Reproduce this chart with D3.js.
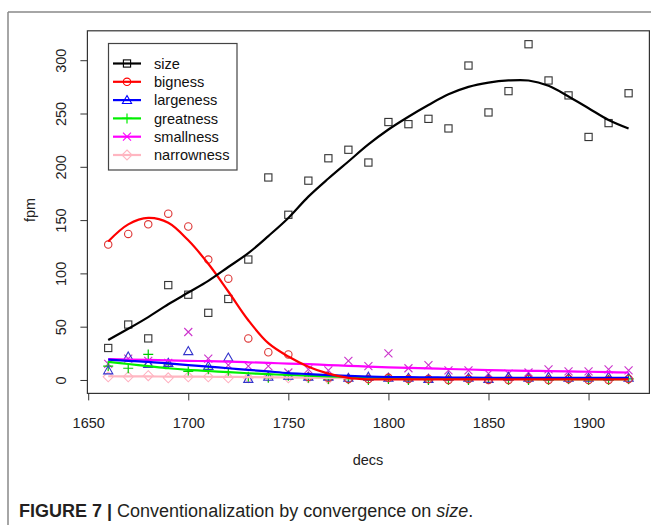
<!DOCTYPE html>
<html>
<head>
<meta charset="utf-8">
<script src="https://cdn.jsdelivr.net/npm/d3@7"></script>
<style>
  body { margin: 0; background: #fff; }
  svg { display: block; font-family: "Liberation Sans", Arial, sans-serif; }
</style>
</head>
<body>
<div id="chart"></div>
<script>
// decades on the x axis
const decs = [1660, 1670, 1680, 1690, 1700, 1710, 1720, 1730, 1740, 1750, 1760, 1770, 1780, 1790,
              1800, 1810, 1820, 1830, 1840, 1850, 1860, 1870, 1880, 1890, 1900, 1910, 1920];

// observed fpm per decade
const size       = [30, 52, 39, 89, 80, 63, 76, 113, 190, 155, 187, 208, 216, 204, 242, 240, 245, 236, 295, 251, 271, 315, 281, 267, 228, 241, 269];
const bigness    = [127, 137, 146, 156, 144, 113, 95, 39, 26, 24, 3, 2, 1, 1, 2, 1, 1, 0, 1, 0, 0, 1, 0, 1, 0, 0, 1];
const largeness  = [9, 22, 15, 16, 27, 13, 21, 1, 3, 4, 3, 3, 2, 3, 2, 2, 1, 3, 2, 1, 3, 2, 3, 2, 2, 3, 2];
const greatness  = [13, 11, 24, 15, 8, 10, 7, 3, 2, 4, 2, 1, 1, 0, 1, 0, 0, 0, 0, 1, 0, 0, 0, 1, 0, 0, 1];
const smallness  = [15, 20, 18, 16, 45, 20, 14, 13, 13, 7, 10, 9, 18, 13, 25, 11, 14, 9, 9, 6, 6, 7, 10, 8, 8, 10, 9];
const narrowness = [3, 3, 4, 2, 3, 3, 2, 2, 3, 2, 2, 1, 1, 1, 2, 1, 1, 1, 1, 1, 1, 1, 1, 1, 1, 1, 1];

// smoothed curves at each decade
const sizeFit   = [37.5, 48, 59, 71, 82, 93, 106, 119, 135, 152, 172, 189, 205, 221, 235, 247, 258, 268, 275, 279, 281, 281, 276, 266, 255, 244, 236];
const bigFit    = [130, 146, 152, 147.5, 131, 109, 83, 56, 34.5, 22, 12.5, 6, 2, 0.6, 0.5, 0.5, 0.5, 0.5, 0.5, 0.5, 0.5, 0.5, 0.5, 0.5, 0.5, 0.5, 0.5];
const largeFit  = [19, 18, 17, 15.5, 14, 12.5, 11, 9.5, 8, 6.5, 5.5, 4.5, 3.8, 3.2, 2.8, 2.6, 2.4, 2.3, 2.2, 2.1, 2, 2, 2, 2, 2, 2, 2];
const greatFit  = [17, 15, 13, 11, 9.5, 8.4, 7.3, 6.3, 5.4, 4.7, 4, 3.4, 2.8, 2.3, 1.9, 1.6, 1.4, 1.2, 1, 1, 0.9, 0.9, 0.8, 0.8, 0.8, 0.8, 0.8];
const smallFit  = [19.5, 19.2, 18.8, 18.4, 18, 17.6, 17.2, 16.6, 16, 15.4, 14.8, 14, 13.3, 12.5, 11.8, 11.3, 10.8, 10.3, 9.8, 9.3, 8.9, 8.6, 8.3, 8, 7.7, 7.3, 7];
const narrowFit = [3.5, 3.4, 3.3, 3.2, 3.1, 3, 2.9, 2.7, 2.5, 2.3, 2.1, 1.9, 1.7, 1.5, 1.4, 1.3, 1.2, 1.1, 1, 1, 1, 1, 1, 1, 1, 1, 1];

const xTicks = [1650, 1700, 1750, 1800, 1850, 1900];
const yTicks = [0, 50, 100, 150, 200, 250, 300];

const series = [
    { name: 'size',       pts: size,       fit: sizeFit,   line: '#000000', mark: '#333333', shape: 'square' },
    { name: 'bigness',    pts: bigness,    fit: bigFit,    line: '#ff0000', mark: '#dd3333', shape: 'circle' },
    { name: 'largeness',  pts: largeness,  fit: largeFit,  line: '#0000ff', mark: '#3333cc', shape: 'triangle' },
    { name: 'greatness',  pts: greatness,  fit: greatFit,  line: '#00ee00', mark: '#00cc00', shape: 'plus' },
    { name: 'smallness',  pts: smallness,  fit: smallFit,  line: '#ff00ff', mark: '#cc33cc', shape: 'cross' },
    { name: 'narrowness', pts: narrowness, fit: narrowFit, line: '#ffb6c1', mark: '#ffb0c0', shape: 'diamond' }
];

const width = 651, height = 525;

const svg = d3.select('#chart')
    .append('svg')
    .attr('width', width)
    .attr('height', height);

// figure frame (top and left rules)
svg.append('line').attr('x1', 8).attr('x2', width).attr('y1', 12).attr('y2', 12)
    .attr('stroke', '#888').attr('stroke-width', 1.5);
svg.append('line').attr('x1', 8).attr('x2', 8).attr('y1', 12).attr('y2', height)
    .attr('stroke', '#888').attr('stroke-width', 1.5);

const x = d3.scaleLinear().domain([1649.6, 1930.4]).range([87.4, 649.4]);
const y = d3.scaleLinear().domain([-12.6, 327.6]).range([393.4, 30.8]);

// axes
const xAxis = svg.append('g')
    .attr('transform', `translate(0,${y.range()[0]})`)
    .call(d3.axisBottom(x).tickValues(xTicks).tickFormat(d3.format('d')).tickSize(7).tickPadding(17));
xAxis.select('.domain').remove();
xAxis.selectAll('text').attr('font-size', 14.5).attr('fill', '#222').attr('font-family', 'Liberation Sans, Arial');
xAxis.selectAll('line').attr('stroke', '#333');

const yAxis = svg.append('g')
    .attr('transform', `translate(${x.range()[0]},0)`)
    .call(d3.axisLeft(y).tickValues(yTicks).tickSize(7));
yAxis.select('.domain').remove();
yAxis.selectAll('line').attr('stroke', '#333');
yAxis.selectAll('text')
    .attr('font-size', 14.5).attr('fill', '#222').attr('font-family', 'Liberation Sans, Arial')
    .attr('x', null).attr('dy', null)
    .attr('text-anchor', 'middle')
    .attr('transform', 'translate(-25,0) rotate(-90)')
    .attr('dominant-baseline', 'middle');

// axis titles
svg.append('text').attr('x', 368).attr('y', 465).attr('text-anchor', 'middle')
    .attr('font-size', 14.5).attr('fill', '#222').text('decs');
svg.append('text').attr('transform', 'translate(35,210) rotate(-90)').attr('text-anchor', 'middle')
    .attr('font-size', 14.5).attr('fill', '#222').text('fpm');

// plot area
const plot = svg.append('g');

const line = d3.line()
    .x((d, i) => x(decs[i]))
    .y(d => y(d))
    .curve(d3.curveCatmullRom);

function drawMark(g, shape, color, cx, cy) {
    const s = 3.6;
    if (shape === 'square') {
        g.append('rect').attr('x', cx - s).attr('y', cy - s).attr('width', 2 * s).attr('height', 2 * s)
            .attr('fill', 'none').attr('stroke', color).attr('stroke-width', 1.1);
    } else if (shape === 'circle') {
        g.append('circle').attr('cx', cx).attr('cy', cy).attr('r', 3.7)
            .attr('fill', 'none').attr('stroke', color).attr('stroke-width', 1.1);
    } else if (shape === 'triangle') {
        const h = 4.6;
        g.append('path').attr('d', `M${cx},${cy - h}L${cx + h},${cy + h * 0.75}L${cx - h},${cy + h * 0.75}Z`)
            .attr('fill', 'none').attr('stroke', color).attr('stroke-width', 1.1);
    } else if (shape === 'plus') {
        g.append('path').attr('d', `M${cx - 5},${cy}H${cx + 5}M${cx},${cy - 5}V${cy + 5}`)
            .attr('stroke', color).attr('stroke-width', 1.2);
    } else if (shape === 'cross') {
        g.append('path').attr('d', `M${cx - 4},${cy - 4}L${cx + 4},${cy + 4}M${cx - 4},${cy + 4}L${cx + 4},${cy - 4}`)
            .attr('stroke', color).attr('stroke-width', 1.1);
    } else if (shape === 'diamond') {
        g.append('path').attr('d', `M${cx},${cy - 5}L${cx + 5},${cy}L${cx},${cy + 5}L${cx - 5},${cy}Z`)
            .attr('fill', 'none').attr('stroke', color).attr('stroke-width', 1.1);
    }
}

// points
series.slice().reverse().forEach(s => {
    const g = plot.append('g');
    s.pts.forEach((v, i) => drawMark(g, s.shape, s.mark, x(decs[i]), y(v)));
});

// fitted lines
series.slice().reverse().forEach(s => {
    plot.append('path')
        .attr('d', line(s.fit))
        .attr('fill', 'none')
        .attr('stroke', s.line)
        .attr('stroke-width', 2.2);
});

// box
svg.append('rect')
    .attr('x', x.range()[0]).attr('y', y.range()[1])
    .attr('width', x.range()[1] - x.range()[0]).attr('height', y.range()[0] - y.range()[1])
    .attr('fill', 'none').attr('stroke', '#333').attr('stroke-width', 1.2);

// legend
const legend = svg.append('g');
legend.append('rect').attr('x', 108.5).attr('y', 43.5).attr('width', 128.5).attr('height', 126.5)
    .attr('fill', '#fff').attr('stroke', '#444').attr('stroke-width', 1.2);
series.forEach((s, i) => {
    const ly = 63.5 + i * 18.3;
    legend.append('line').attr('x1', 113).attr('x2', 141).attr('y1', ly).attr('y2', ly)
        .attr('stroke', s.line).attr('stroke-width', 2.2);
    drawMark(legend, s.shape, s.line, 127, ly);
    legend.append('text').attr('x', 154).attr('y', ly).attr('dy', '0.35em')
        .attr('font-size', 14.6).attr('fill', '#111').text(s.name);
});

// caption
const cap = svg.append('text').attr('x', 19).attr('y', 517).attr('font-size', 18).attr('fill', '#231f20');
cap.append('tspan').attr('font-weight', 'bold').text('FIGURE 7 | ');
cap.append('tspan').text('Conventionalization by convergence on ');
cap.append('tspan').attr('font-style', 'italic').text('size');
cap.append('tspan').text('.');
</script>
</body>
</html>
